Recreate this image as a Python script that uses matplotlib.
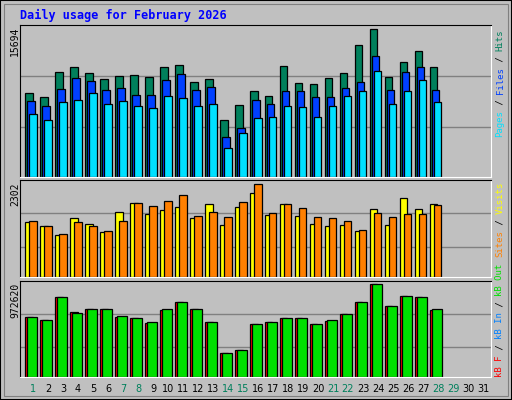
import numpy as np
import matplotlib
matplotlib.use("Agg")
import matplotlib.pyplot as plt
from matplotlib.patches import Rectangle

# -----------------------------
# DATA
# -----------------------------
days = list(range(1, 29))
hits = [8877, 8451, 11150, 11647, 11008, 10369, 10689, 10795, 10582, 11647, 11860, 10049, 10369, 6108,
        7599, 9091, 8558, 11754, 9943, 9836, 10475, 11008, 13991, 15694, 10582, 12180, 13352, 11647]
files = [8025, 7493, 9304, 10475, 10156, 9197, 9410, 8664, 8664, 10262, 10902, 9197, 9517, 4297,
         5255, 8132, 7706, 9091, 9091, 8451, 8451, 9410, 10049, 12819, 9197, 11115, 11647, 9197]
pages = [6747, 6108, 7919, 8132, 8877, 7706, 8025, 7493, 7280, 8558, 8345, 7493, 7706, 3125,
         4723, 6321, 6427, 7493, 7386, 6427, 7493, 8558, 9091, 11221, 7706, 9091, 10262, 7919]
visits = [1355, 1255, 1055, 1454, 1305, 1130, 1604, 1828, 1554, 1654, 1728, 1454, 1803, 1280,
          1728, 2078, 1529, 1803, 1504, 1305, 1255, 1280, 1155, 1679, 1280, 1953, 1679, 1803]
sites = [1379, 1255, 1080, 1355, 1255, 1155, 1379, 1828, 1753, 1878, 2028, 1504, 1604, 1479,
         1853, 2302, 1579, 1803, 1704, 1479, 1454, 1379, 1180, 1579, 1479, 1554, 1554, 1778]
kb_f = [630800, 599100, 842200, 683700, 715400, 715400, 630800, 620200, 567400, 704800, 789400, 715400,
        577900, 250200, 281900, 556800, 577900, 620200, 620200, 556800, 588500, 662500, 789400, 972620,
        747100, 852800, 842200, 704800]
kb_out = [630800, 599100, 842200, 673100, 715400, 715400, 641400, 620200, 577900, 715400, 789400, 715400,
          577900, 250200, 281900, 556800, 577900, 620200, 620200, 556800, 599100, 662500, 789400, 972620,
          747100, 852800, 842200, 715400]
label_days = list(range(1, 32))
weekend = {1, 7, 8, 14, 15, 21, 22, 28, 29}

BG = "#C0C0C0"
W, H = 512, 400

fig = plt.figure(figsize=(W / 100, H / 100), dpi=100, facecolor=BG)
fig.patches.append(Rectangle((0, 0), 1, 1, transform=fig.transFigure, fill=False,
                             edgecolor="black", lw=1.5))
fig.patches.append(Rectangle((4 / W, 4 / H), 1 - 8 / W, 1 - 8 / H, transform=fig.transFigure,
                             fill=False, edgecolor="#808080", lw=0.8))


def panel(top, bottom):
    ax = fig.add_axes([20 / W, 1 - bottom / H, 471 / W, (bottom - top) / H])
    ax.set_facecolor(BG)
    ax.set_xlim(0, 471 / 15)
    ax.set_xticks([])
    ax.set_yticks([])
    for s in ("top", "left"):
        ax.spines[s].set_color("black")
    for s in ("bottom", "right"):
        ax.spines[s].set_color("white")
    return ax


x = np.array(days) - 1 + 5.3 / 15
bw = 7.2 / 15
ek = dict(edgecolor="black", linewidth=0.9, align="edge")

# -----------------------------
# TOP: hits / files / pages
# -----------------------------
ax1 = panel(25, 177)
ym = 16151
ax1.set_ylim(0, ym)
for f in (0.329, 0.664):
    ax1.axhline(ym * f, color="#808080", lw=1, zorder=0)
ax1.bar(x, hits, bw, color="#00805C", **ek)
ax1.bar(x + 2 / 15, files, bw, color="#0040FF", **ek)
ax1.bar(x + 4 / 15, pages, bw, color="#00E0FF", **ek)

# -----------------------------
# MIDDLE: visits / sites
# -----------------------------
ax2 = panel(180, 277)
ym = 2410
ax2.set_ylim(0, ym)
for f in (0.314, 0.655):
    ax2.axhline(ym * f, color="#808080", lw=1, zorder=0)
ax2.bar(x, visits, bw, color="#FFFF00", **ek)
ax2.bar(x + 4 / 15, sites, bw, color="#FF8000", **ek)

# -----------------------------
# BOTTOM: kB
# -----------------------------
ax3 = panel(281, 377)
ym = 1007860
ax3.set_ylim(0, ym)
for f in (0.311, 0.657):
    ax3.axhline(ym * f, color="#808080", lw=1, zorder=0)
ax3.bar(x, kb_f, bw, color="#FF0000", **ek)
ax3.bar(x + 2 / 15, kb_out, 9.3 / 15, color="#00E000", **ek)

# -----------------------------
# TEXT
# -----------------------------
fig.text(20 / W, 1 - 15 / H, "Daily usage for February 2026", color="#0000FF",
         family="DejaVu Sans Mono", weight="bold", fontsize=8.5, va="center", ha="left")

for val, ytop in (("15694", 27), ("2302", 182), ("972620", 283)):
    fig.text(15 / W, 1 - ytop / H, val, rotation=90, family="DejaVu Sans Mono",
             fontsize=7, va="top", ha="center")

for d in label_days:
    col = "#00805C" if d in weekend else "black"
    fig.text((20 + (d - 1) * 15 + 13) / W, 1 - 389 / H, str(d), color=col,
             fontsize=7, ha="center", va="center")


def vlabel(ybottom, parts, step=5.4):
    pos = ybottom
    for txt, col in parts:
        fig.text(500 / W, 1 - pos / H, txt, rotation=90, color=col, family="DejaVu Sans Mono",
                 fontsize=6.5, ha="center", va="bottom")
        pos -= step * len(txt)


vlabel(137, [("Pages", "#00E0FF"), (" / ", "#000000"), ("Files", "#0040FF"),
             (" / ", "#000000"), ("Hits", "#00805C")])
vlabel(257, [("Sites", "#FF8000"), (" / ", "#000000"), ("Visits", "#FFFF00")])
vlabel(377, [("kB F", "#FF0000"), (" / ", "#000000"), ("kB In", "#0080FF"),
             (" / ", "#000000"), ("kB Out", "#00E000")])

fig.savefig("out.png", dpi=100, facecolor=BG)
